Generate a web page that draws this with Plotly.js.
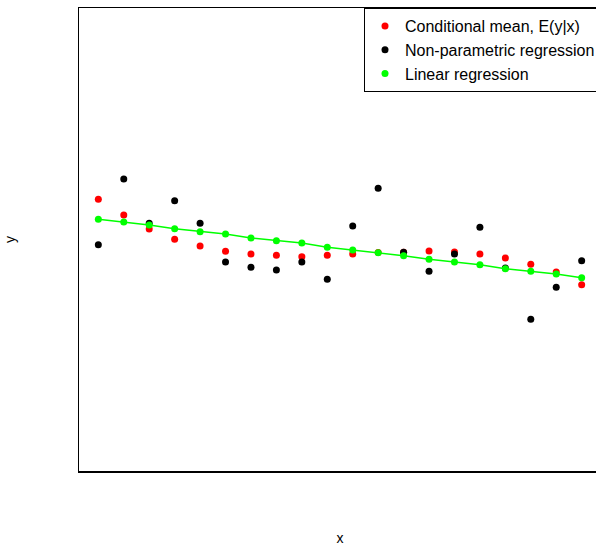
<!DOCTYPE html>
<html>
<head>
<meta charset="utf-8">
<script src="https://cdn.plot.ly/plotly-3.0.1.min.js"></script>
<style>
  html, body { margin: 0; padding: 0; overflow: hidden; background: #fff; }
  #plot { width: 620px; height: 546px; }
</style>
</head>
<body>
<div id="plot"></div>
<script>
// Design points
const xs = [1, 2, 3, 4, 5, 6, 7, 8, 9, 10, 11, 12, 13, 14, 15, 16, 17, 18, 19, 20];

// Conditional mean E(y|x) at each x
const condMean = [0.521, 0.317, 0.136, 0.003, -0.084, -0.153, -0.188, -0.205, -0.223, -0.205,
                  -0.188, -0.168, -0.166, -0.149, -0.162, -0.188, -0.240, -0.321, -0.421, -0.586];

// Non-parametric regression estimates
const nonParam = [-0.067, 0.784, 0.210, 0.503, 0.210, -0.292, -0.360, -0.395, -0.292, -0.516,
                  0.175, 0.663, -0.166, -0.412, -0.188, 0.158, -0.369, -1.034, -0.619, -0.275];

// Linear regression fitted values
const linFit = [0.262, 0.227, 0.188, 0.140, 0.101, 0.071, 0.019, -0.016, -0.045, -0.101,
                -0.136, -0.171, -0.210, -0.257, -0.292, -0.327, -0.378, -0.412, -0.447, -0.495];

const seriesNames = ['Conditional mean, E(y|x)', 'Non-parametric regression', 'Linear regression'];

const dot = 7;

const traces = [
  { x: xs, y: condMean, type: 'scatter', mode: 'markers', name: seriesNames[0],
    marker: { color: '#ff0000', size: dot } },
  { x: xs, y: nonParam, type: 'scatter', mode: 'markers', name: seriesNames[1],
    marker: { color: '#000000', size: dot } },
  { x: xs, y: linFit, type: 'scatter', mode: 'lines', showlegend: false, hoverinfo: 'skip',
    line: { color: '#00ff00', width: 1.5 } },
  { x: xs, y: linFit, type: 'scatter', mode: 'markers', name: seriesNames[2],
    marker: { color: '#00ff00', size: dot } }
];

const layout = {
  width: 620,
  height: 546,
  margin: { l: 79, r: 19, t: 8, b: 75 },
  paper_bgcolor: '#ffffff',
  plot_bgcolor: '#ffffff',
  font: { family: 'Liberation Sans, Arial, sans-serif', color: '#000000', size: 14 },
  showlegend: true,
  legend: {
    x: 1, xanchor: 'right', y: 1, yanchor: 'top',
    bgcolor: '#ffffff', bordercolor: '#000000', borderwidth: 1,
    font: { size: 16 },
    itemwidth: 30,
    tracegroupgap: 0
  },
  xaxis: {
    range: [0.24, 20.76],
    showgrid: false, zeroline: false, showticklabels: false, ticks: '',
    showline: true, mirror: true, linecolor: '#000000', linewidth: 1.5,
    title: { text: 'x', standoff: 64, font: { size: 14 } }
  },
  yaxis: {
    range: [-3, 3],
    showgrid: false, zeroline: false, showticklabels: false, ticks: '',
    showline: true, mirror: true, linecolor: '#000000', linewidth: 1.5,
    title: { text: 'y', standoff: 58, font: { size: 14 } }
  }
};

Plotly.newPlot('plot', traces, layout, { displayModeBar: false, staticPlot: true });
</script>
</body>
</html>
